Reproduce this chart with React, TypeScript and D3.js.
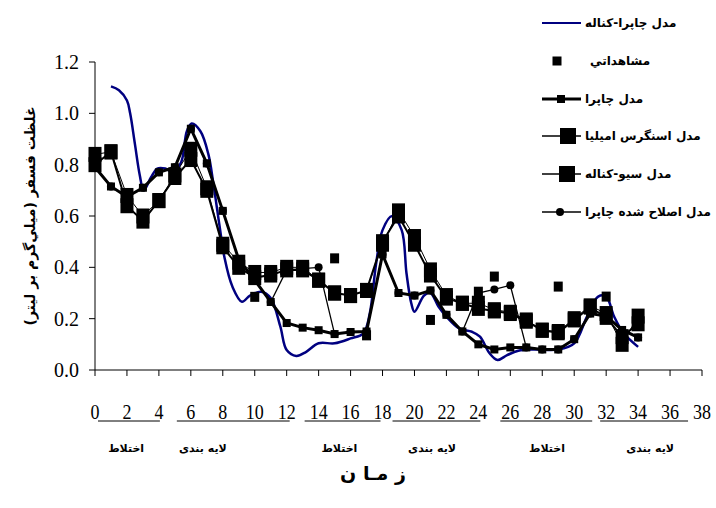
import React from 'react';
import * as d3 from 'd3';

// ---------- data ----------
const times = [0,1,2,3,4,5,6,7,8,9,10,11,12,13,14,15,16,17,18,19,20,21,22,23,24,25,26,27,28,29,30,31,32,33,34];
const chapra = [0.79,0.715,0.675,0.71,0.77,0.79,0.94,0.805,0.62,0.43,0.35,0.265,0.183,0.165,0.155,0.14,0.148,0.15,0.45,0.30,0.29,0.31,0.215,0.15,0.10,0.08,0.088,0.088,0.08,0.08,0.12,0.22,0.21,0.156,0.127];
const snodgrass = [0.84,0.85,0.68,0.60,0.66,0.76,0.86,0.71,0.49,0.42,0.38,0.38,0.40,0.40,0.35,0.30,0.29,0.31,0.49,0.62,0.52,0.39,0.29,0.26,0.26,0.235,0.225,0.195,0.155,0.15,0.20,0.25,0.22,0.10,0.21];
const seoCanale = [0.80,0.85,0.64,0.58,0.66,0.75,0.82,0.70,0.48,0.40,0.36,0.37,0.39,0.39,0.35,0.30,0.29,0.31,0.50,0.60,0.49,0.37,0.28,0.26,0.24,0.23,0.22,0.19,0.155,0.145,0.195,0.245,0.205,0.13,0.18];
const modChapra = [0.79,0.715,0.675,0.71,0.77,0.79,0.94,0.805,0.62,0.43,0.35,0.265,0.39,0.395,0.40,0.14,0.148,0.15,0.45,0.30,0.29,0.31,0.215,0.15,0.30,0.314,0.33,0.088,0.08,0.08,0.12,0.22,0.21,0.156,0.127];

const observedT = [10,15,17,21,24,25,29,32];
const observedV = [0.285,0.435,0.135,0.195,0.305,0.364,0.325,0.286];

const chapraCanaleT = [1.0,1.5,2.0,2.2,2.5,2.8,3.05,3.5,3.9,4.4,4.9,5.4,5.75,6.05,6.6,7.1,7.4,7.8,8.1,8.6,9.2,9.7,10.4,11.0,11.6,12.0,12.6,13.2,14.0,15.0,16.0,16.8,17.2,17.6,18.0,18.6,19.2,19.5,19.8,20.0,20.6,21.0,21.5,22.0,22.8,23.6,24.1,24.7,25.2,25.8,26.5,27.5,29.0,30.0,30.8,31.5,32.0,32.5,33.1,34.0];
const chapraCanaleV = [1.105,1.09,1.05,1.0,0.88,0.76,0.70,0.75,0.785,0.785,0.77,0.81,0.93,0.96,0.93,0.84,0.73,0.56,0.44,0.325,0.266,0.29,0.305,0.28,0.17,0.078,0.055,0.07,0.104,0.104,0.123,0.143,0.22,0.415,0.545,0.60,0.545,0.377,0.26,0.227,0.29,0.30,0.247,0.208,0.162,0.149,0.13,0.065,0.039,0.058,0.075,0.08,0.08,0.104,0.208,0.286,0.286,0.208,0.143,0.09];

const yTicks = [0,0.2,0.4,0.6,0.8,1.0,1.2];
const xTicks = [0,2,4,6,8,10,12,14,16,18,20,22,24,26,28,30,32,34,36,38];

const phaseLabels = ['اختلاط','لایه بندی','اختلاط','لایه بندی','اختلاط','لایه بندی'];
const phaseCenters = [1.95,6.75,15.3,21.1,28.3,34.75];
const underlineGroups = [[0,4],[6,12],[14,18],[18,24],[26,30],[32,36]];
const underlinePads = [[3,1],[-14,3],[-14,-2],[10,2],[-10,18],[-6,18]];

const legendLabels = ['مدل چاپرا-کناله','مشاهداتي','مدل چاپرا','مدل اسنگرس اميليا','مدل سيو-کناله','مدل اصلاح شده چاپرا'];

const yTitle = 'غلظت فسفر (ميلي‌گرم بر ليتر)';
const xTitle = 'ز مـا ن';

// ---------- chart ----------
const W = 716, H = 508;
const x = d3.scaleLinear().domain([0, 38]).range([95, 702]);
const y = d3.scaleLinear().domain([0, 1.2]).range([370, 62]);

const NAVY = '#000080';
const serifStyle = { fontFamily: '"Liberation Serif", "DejaVu Serif", "Times New Roman", Times, serif' };
const arabStyle = { fontFamily: '"DejaVu Sans", sans-serif', fontWeight: 'bold' as const };

function Sq({ cx, cy, w, h, fill = '#000' }: any) {
  return <rect x={cx - w / 2} y={cy - h / 2} width={w} height={h} fill={fill} />;
}

export default function App() {
  const lineStraight = d3.line<number>().x((_, i) => x(times[i])).y(d => y(d));
  const navyLine = d3.line<number>().x((_, i) => x(chapraCanaleT[i])).y(d => y(d)).curve(d3.curveCatmullRom.alpha(0.5));

  const legendY = [23, 61, 99, 136, 174, 212];

  return (
    <svg width={W} height={H} style={{ position: 'absolute', left: 0, top: 0, background: '#fff' }}>
      <rect x={0} y={0} width={W} height={H} fill="#fff" />

      {/* axes */}
      <line x1={x(0)} x2={x(0)} y1={y(1.2)} y2={y(0)} stroke="#000" strokeWidth={1} />
      <line x1={x(0)} x2={x(38)} y1={y(0)} y2={y(0)} stroke="#000" strokeWidth={1} />
      {yTicks.map(t => (
        <g key={'yt' + t}>
          <line x1={x(0) - 6} x2={x(0)} y1={y(t)} y2={y(t)} stroke="#000" />
          <text x={79} y={y(t)} dy="0.35em" textAnchor="end" style={serifStyle} fontSize={20}>{t.toFixed(1)}</text>
        </g>
      ))}
      {xTicks.map(t => (
        <line key={'xt' + t} x1={x(t)} x2={x(t)} y1={y(0)} y2={y(0) + 6} stroke="#000" />
      ))}

      {/* x labels (separate text row with underlines) */}
      {xTicks.map(t => (
        <text key={'xl' + t} transform={`translate(${x(t)},419) scale(1,1.2)`} textAnchor="middle" style={serifStyle} fontSize={18}>{t}</text>
      ))}
      {underlineGroups.map((g, i) => (
        <line key={'ul' + i} x1={x(g[0]) + underlinePads[i][0]} x2={x(g[1]) + underlinePads[i][1]} y1={421} y2={421} stroke="#000" strokeWidth={1} />
      ))}
      {phaseLabels.map((p, i) => (
        <text key={'ph' + i} x={x(phaseCenters[i])} y={452} textAnchor="middle" style={arabStyle} fontSize={11}>{p}</text>
      ))}

      {/* axis titles */}
      <text x={373} y={480} textAnchor="middle" style={arabStyle} fontSize={19}>{xTitle}</text>
      <text transform="translate(35,216) rotate(-90)" textAnchor="middle" style={arabStyle} fontSize={14}>{yTitle}</text>

      {/* series 1: Chapra-Canale (navy) */}
      <path d={navyLine(chapraCanaleV) || ''} fill="none" stroke={NAVY} strokeWidth={2.5} />

      {/* series 2: observed */}
      {observedT.map((t, i) => (
        <Sq key={'ob' + i} cx={x(t)} cy={y(observedV[i])} w={9} h={10} />
      ))}

      {/* series 3: Chapra */}
      <path d={lineStraight(chapra) || ''} fill="none" stroke="#000" strokeWidth={3} />
      {chapra.map((v, i) => (
        <Sq key={'ch' + i} cx={x(times[i])} cy={y(v)} w={8} h={8} />
      ))}

      {/* series 4: Snodgrass-Omelia */}
      <path d={lineStraight(snodgrass) || ''} fill="none" stroke="#000" strokeWidth={1} />
      {snodgrass.map((v, i) => (
        <Sq key={'sn' + i} cx={x(times[i])} cy={y(v)} w={13} h={15} />
      ))}

      {/* series 5: Seo-Canale */}
      <path d={lineStraight(seoCanale) || ''} fill="none" stroke="#000" strokeWidth={2} />
      {seoCanale.map((v, i) => (
        <Sq key={'se' + i} cx={x(times[i])} cy={y(v)} w={13} h={15} />
      ))}

      {/* series 6: modified Chapra */}
      <path d={lineStraight(modChapra) || ''} fill="none" stroke="#000" strokeWidth={1.3} />
      {modChapra.map((v, i) => (
        <circle key={'mc' + i} cx={x(times[i])} cy={y(v)} r={4} fill="#000" />
      ))}

      {/* legend */}
      <g>
        <line x1={542} x2={581} y1={legendY[0]} y2={legendY[0]} stroke={NAVY} strokeWidth={2.2} />
        <Sq cx={557} cy={legendY[1]} w={9} h={9} />
        <line x1={542} x2={581} y1={legendY[2]} y2={legendY[2]} stroke="#000" strokeWidth={3} />
        <Sq cx={561} cy={legendY[2]} w={8} h={8} />
        <line x1={542} x2={581} y1={legendY[3]} y2={legendY[3]} stroke="#000" strokeWidth={1.3} />
        <Sq cx={568} cy={legendY[3]} w={16} h={16} />
        <line x1={542} x2={581} y1={legendY[4]} y2={legendY[4]} stroke="#000" strokeWidth={1.5} />
        <Sq cx={567} cy={legendY[4]} w={16} h={16} />
        <line x1={542} x2={581} y1={legendY[5]} y2={legendY[5]} stroke="#000" strokeWidth={1.5} />
        <circle cx={560} cy={legendY[5]} r={4} fill="#000" />
        {legendLabels.map((l, i) => (
          <text key={'lg' + i} x={i === 1 ? 590 : 585} y={legendY[i]} dy="0.35em" style={arabStyle} fontSize={12}>{l}</text>
        ))}
      </g>
    </svg>
  );
}
